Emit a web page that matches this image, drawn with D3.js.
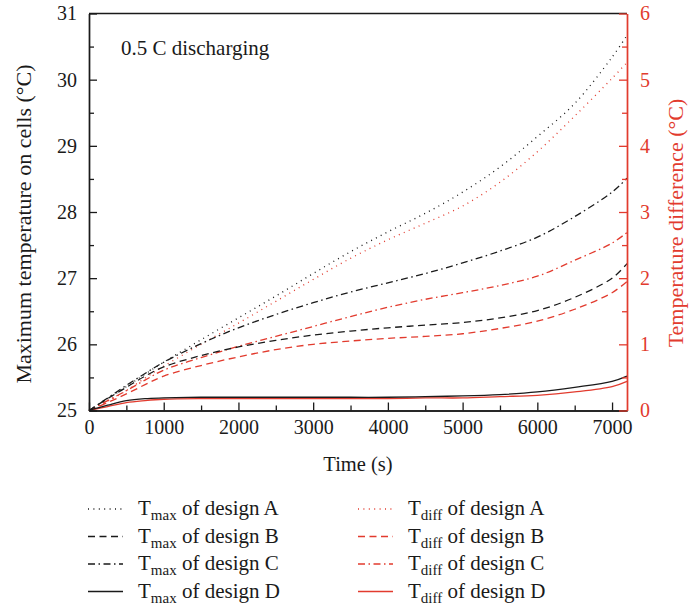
<!DOCTYPE html>
<html>
<head>
<meta charset="utf-8">
<script src="https://cdn.jsdelivr.net/npm/d3@7"></script>
<style>
  body { margin: 0; background: #fff; }
  svg text { font-family: "Liberation Serif", "DejaVu Serif", serif; }
</style>
</head>
<body>
<svg width="690" height="610"></svg>
<script>
// time (s)
var times = [0, 250, 500, 750, 1000, 1500, 2000, 2500, 3000, 3500, 4000, 4500, 5000, 5500, 6000, 6500, 7000, 7200];

// maximum temperature on cells (left axis, °C)
var tmaxA = [25, 25.18, 25.36, 25.55, 25.73, 26.07, 26.40, 26.73, 27.07, 27.40, 27.70, 27.98, 28.30, 28.68, 29.14, 29.64, 30.34, 30.67];
var tmaxB = [25, 25.18, 25.35, 25.52, 25.66, 25.83, 25.96, 26.06, 26.14, 26.20, 26.25, 26.29, 26.33, 26.40, 26.51, 26.71, 27.00, 27.22];
var tmaxC = [25, 25.19, 25.38, 25.56, 25.73, 26.01, 26.25, 26.45, 26.63, 26.79, 26.93, 27.07, 27.23, 27.41, 27.62, 27.93, 28.30, 28.51];
var tmaxD = [25, 25.08, 25.15, 25.18, 25.19, 25.20, 25.20, 25.20, 25.20, 25.20, 25.20, 25.21, 25.22, 25.24, 25.28, 25.35, 25.44, 25.52];

// temperature difference (right axis, °C)
var tdiffA = [0, 0.14, 0.30, 0.49, 0.67, 1.00, 1.32, 1.65, 1.98, 2.30, 2.58, 2.83, 3.09, 3.45, 3.91, 4.45, 5.02, 5.26];
var tdiffB = [0, 0.12, 0.25, 0.39, 0.52, 0.68, 0.81, 0.92, 1.00, 1.05, 1.09, 1.12, 1.16, 1.24, 1.35, 1.53, 1.78, 1.95];
var tdiffC = [0, 0.15, 0.30, 0.46, 0.61, 0.80, 0.97, 1.12, 1.27, 1.42, 1.56, 1.68, 1.78, 1.89, 2.03, 2.27, 2.53, 2.69];
var tdiffD = [0, 0.06, 0.12, 0.15, 0.17, 0.18, 0.18, 0.18, 0.18, 0.18, 0.18, 0.19, 0.19, 0.21, 0.23, 0.28, 0.36, 0.44];

var designs = ["A", "B", "C", "D"];
var xTicks = [0, 1000, 2000, 3000, 4000, 5000, 6000, 7000];
var leftTicks = [25, 26, 27, 28, 29, 30, 31];
var rightTicks = [0, 1, 2, 3, 4, 5, 6];

var red = "#e23b2e",
    black = "#1a1a1a";
var dashes = ["1,4.4", "7,4.5", "7,3.5,1.5,3.5", null];

var svg = d3.select("svg"),
    margin = {top: 13.5, right: 63, bottom: 199.5, left: 89},
    width = +svg.attr("width") - margin.left - margin.right,
    height = +svg.attr("height") - margin.top - margin.bottom;

var x = d3.scaleLinear().domain([0, 7200]).range([0, width]),
    yL = d3.scaleLinear().domain([25, 31]).range([height, 0]),
    yR = d3.scaleLinear().domain([0, 6]).range([height, 0]);

var g = svg.append("g")
    .attr("transform", "translate(" + margin.left + "," + margin.top + ")");

// curves
var tmaxSeries = [tmaxA, tmaxB, tmaxC, tmaxD],
    tdiffSeries = [tdiffA, tdiffB, tdiffC, tdiffD];

function drawSeries(vals, yScale, color, dash) {
    var line = d3.line()
        .x(function(d, i) { return x(times[i]); })
        .y(function(d) { return yScale(d); })
        .curve(d3.curveCatmullRom.alpha(0.5));
    g.append("path")
        .datum(vals)
        .attr("fill", "none")
        .attr("stroke", color)
        .attr("stroke-width", 1.3)
        .attr("stroke-dasharray", dash)
        .attr("d", line);
}

tdiffSeries.forEach(function(s, i) { drawSeries(s, yR, red, dashes[i]); });
tmaxSeries.forEach(function(s, i) { drawSeries(s, yL, black, dashes[i]); });

// axes
function styleAxis(sel, color) {
    sel.select(".domain").attr("stroke", color).attr("stroke-width", 1.4);
    sel.selectAll(".tick line").attr("stroke", color).attr("stroke-width", 1.3);
    sel.selectAll("text")
        .attr("fill", color)
        .style("font-size", "20px");
}

// minor ticks
g.append("g")
    .attr("transform", "translate(0," + height + ")")
    .call(d3.axisBottom(x).tickValues(d3.range(500, 7200, 1000)).tickSize(-5).tickFormat("").tickSizeOuter(0))
    .call(styleAxis, black);
g.append("g")
    .call(d3.axisLeft(yL).tickValues(d3.range(25.5, 31, 1)).tickSize(-5).tickFormat("").tickSizeOuter(0))
    .call(styleAxis, black);
g.append("g")
    .attr("transform", "translate(" + width + ",0)")
    .call(d3.axisRight(yR).tickValues(d3.range(0.5, 6, 1)).tickSize(-5).tickFormat("").tickSizeOuter(0))
    .call(styleAxis, red);

// top frame
g.append("line")
    .attr("x1", 0).attr("x2", width)
    .attr("y1", 0).attr("y2", 0)
    .attr("stroke", black)
    .attr("stroke-width", 1.4);

g.append("g")
    .attr("transform", "translate(0," + height + ")")
    .call(d3.axisBottom(x).tickValues(xTicks).tickSize(-8).tickPadding(9).tickSizeOuter(0).tickFormat(d3.format("d")))
    .call(styleAxis, black);

g.append("g")
    .call(d3.axisLeft(yL).tickValues(leftTicks).tickSize(-8).tickPadding(12).tickSizeOuter(0).tickFormat(d3.format("d")))
    .call(styleAxis, black);

g.append("g")
    .attr("transform", "translate(" + width + ",0)")
    .call(d3.axisRight(yR).tickValues(rightTicks).tickSize(-8).tickPadding(13).tickSizeOuter(0).tickFormat(d3.format("d")))
    .call(styleAxis, red);

// axis titles
g.append("text")
    .attr("x", width / 2)
    .attr("y", height + 60)
    .attr("text-anchor", "middle")
    .attr("fill", black)
    .style("font-size", "20.5px")
    .text("Time (s)");

g.append("text")
    .attr("transform", "translate(" + (-58) + "," + (height / 2 + 12) + ") rotate(-90)")
    .attr("text-anchor", "middle")
    .attr("fill", black)
    .style("font-size", "22px")
    .text("Maximum temperature on cells (°C)");

g.append("text")
    .attr("transform", "translate(" + (width + 56) + "," + (height / 2 + 11) + ") rotate(-90)")
    .attr("text-anchor", "middle")
    .attr("fill", red)
    .style("font-size", "22px")
    .text("Temperature difference (°C)");

g.append("text")
    .attr("x", 32)
    .attr("y", 41)
    .attr("fill", black)
    .style("font-size", "21px")
    .text("0.5 C discharging");

// legend
var legend = svg.append("g");
var rowY = [509, 536.5, 564, 591.5];

function legendItem(x0, y0, color, dash, sub, label) {
    legend.append("line")
        .attr("x1", x0).attr("x2", x0 + 35)
        .attr("y1", y0).attr("y2", y0)
        .attr("stroke", color)
        .attr("stroke-width", 1.3)
        .attr("stroke-dasharray", dash);
    var t = legend.append("text")
        .attr("x", x0 + 50)
        .attr("y", y0 + 6)
        .attr("fill", black)
        .style("font-size", "21px");
    t.append("tspan").text("T");
    t.append("tspan").attr("dy", 5).style("font-size", "15px").text(sub);
    t.append("tspan").attr("dy", -5).text(" of design " + label);
}

designs.forEach(function(d, i) {
    legendItem(88, rowY[i], black, dashes[i], "max", d);
    legendItem(358, rowY[i], red, dashes[i], "diff", d);
});
</script>
</body>
</html>
